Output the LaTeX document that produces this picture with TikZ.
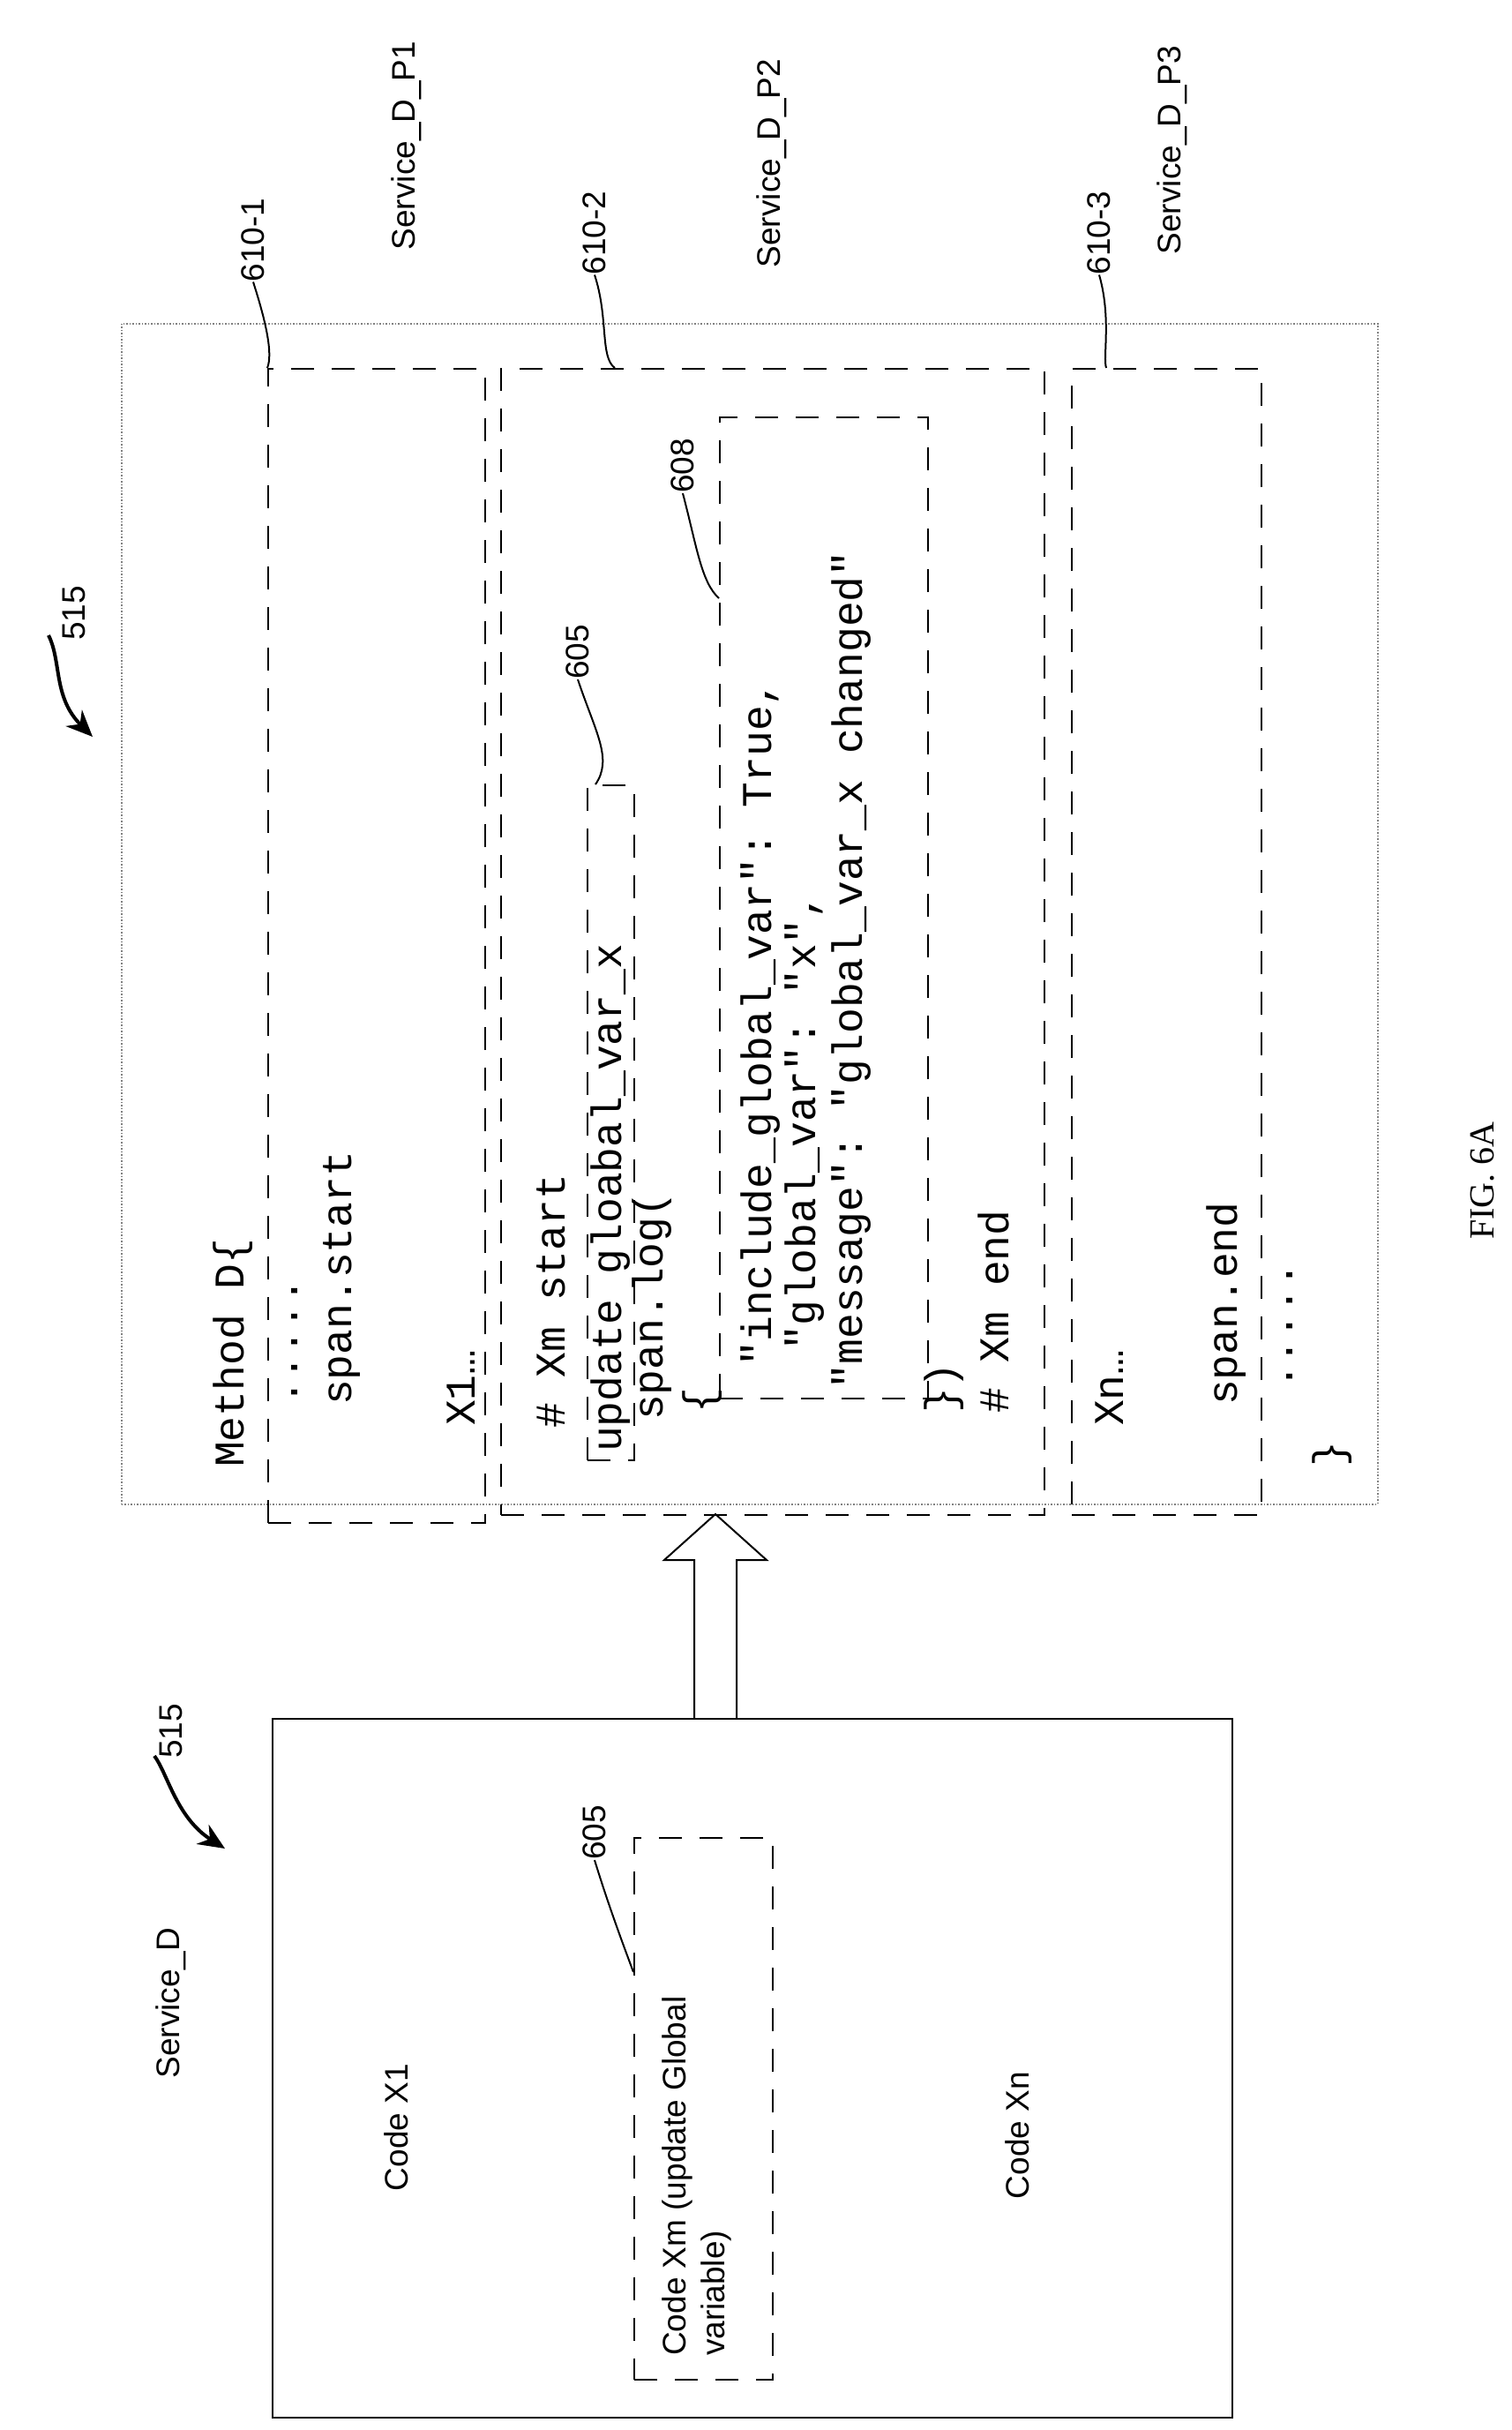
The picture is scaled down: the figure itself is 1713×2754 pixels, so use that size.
\documentclass[tikz,border=0pt]{standalone}
\usepackage{fontspec}
\setmainfont{Liberation Serif}
\setsansfont{Liberation Sans}
\setmonofont{Liberation Mono}
\usetikzlibrary{arrows.meta}

\begin{document}
\begin{tikzpicture}[x=1pt, y=-1pt,
    codeline/.style={rotate=90, anchor=west, inner sep=0pt, font=\fontsize{48}{56}\selectfont\ttfamily},
    label/.style={rotate=90, inner sep=0pt, font=\fontsize{37}{44}\selectfont\sffamily},
    partbox/.style={draw, dash pattern=on 26pt off 20pt, line width=2.2pt},
    leader/.style={line width=2pt},
    refarrow/.style={line width=4pt, -{Stealth[length=30pt, width=26pt]}}
]
    \useasboundingbox (0,0) rectangle (1713,2754);

    % Method D box and its parts
    \node[draw=gray, dotted, line width=1.5pt, minimum width=1424pt, minimum height=1338pt, inner sep=0pt, anchor=north west] (method) at (137,366) {};
    \node[partbox, minimum width=246pt, minimum height=1308pt, anchor=north west] (p1) at (303,417) {};
    \node[partbox, minimum width=616pt, minimum height=1299pt, anchor=north west] (p2) at (567,417) {};
    \node[partbox, minimum width=215pt, minimum height=1299pt, anchor=north west] (p3) at (1214,417) {};
    \node[partbox, minimum width=236pt, minimum height=1112pt, anchor=north west] (log) at (815,472) {};
    \node[partbox, minimum width=53pt, minimum height=765pt, anchor=north west] (upd) at (665,889) {};

    % Code lines
    \node[codeline] (c1) at (264,1663) {Method D\{};
    \node[codeline] (c2) at (334,1593) {.....};
    \node[codeline] (c3) at (387,1593) {span.start};
    \node[codeline] (c4) at (523,1616) {X1\ldots};
    \node[codeline] (c5) at (625,1619) {\# Xm start};
    \node[codeline] (c6) at (692,1646) {update gloabal\_var\_x};
    \node[codeline] (c7) at (739,1610) {span.log(};
    \node[codeline] (c8) at (796,1602) {\{};
    \node[codeline] (c9) at (862,1549) {"include\_global\_var": True,};
    \node[codeline] (c10) at (912,1531) {"global\_var": "x",};
    \node[codeline] (c11) at (965,1575) {"message": "global\_var\_x changed"};
    \node[codeline] (c12) at (1070,1602) {\})};
    \node[codeline] (c13) at (1126,1602) {\# Xm end};
    \node[codeline] (c14) at (1258,1616) {Xn\ldots};
    \node[codeline] (c15) at (1390,1593) {span.end};
    \node[codeline] (c16) at (1462,1575) {.....};
    \node[codeline] (c17) at (1510,1663) {\}};

    % Part labels
    \node[label] (s1) at (461,165) {Service\_D\_P1};
    \node[label] (s2) at (875,185) {Service\_D\_P2};
    \node[label] (s3) at (1329,170) {Service\_D\_P3};
    \node[label] (n1) at (287,272) {610-1};
    \node[label] (n2) at (674,264) {610-2};
    \node[label] (n3) at (1246,264) {610-3};
    \node[label] (n608) at (774,528) {608};
    \node[label] (n605) at (655,739) {605};
    \draw[leader] (n1.west) .. controls (300,360) and (310,400) .. (p1.north west);
    \draw[leader] (n2.west) .. controls (690,360) and (680,405) .. ([xshift=130pt]p2.north west);
    \draw[leader] (n3.west) .. controls (1260,360) and (1250,405) .. ([xshift=40pt]p3.north west);
    \draw[leader] (n608.west) .. controls (790,620) and (795,660) .. ([yshift=-206pt]log.north west);
    \draw[leader] (n605.west) .. controls (675,830) and (695,860) .. ([xshift=10pt]upd.north west);

    % Service D box
    \node[draw, line width=1.5pt, minimum width=1088pt, minimum height=792pt, inner sep=0pt, anchor=north west] (svc) at (308,1947) {};
    \node[partbox, minimum width=157pt, minimum height=614pt, anchor=north west] (xm) at (718,2082) {};
    \node[label] (cx1) at (449,2411) {Code X1};
    \node[label, anchor=west, align=left] (cxm) at (790,2670) {Code Xm (update Global\\variable)};
    \node[label] (cxn) at (1153,2420) {Code Xn};
    \node[label] (svcname) at (194,2270) {Service\_D};
    \node[label] (m605) at (674,2077) {605};
    \draw[leader] (m605.west) .. controls (690,2160) and (705,2200) .. ([yshift=-153pt]xm.north west);

    % Reference 515 marks
    \node[label] (r1) at (84,695) {515};
    \node[label] (r2) at (194,1962) {515};
    \draw[refarrow] (55,720) .. controls (70,750) and (60,790) .. (105,835);
    \draw[refarrow] (175,1990) .. controls (190,2010) and (200,2060) .. (255,2095);

    % Transfer arrow
    \draw[line width=2pt] (787,1947) -- (787,1768) -- (753,1768) -- (811,1716) -- (869,1768) -- (835,1768) -- (835,1947);

    \node[rotate=90, font=\fontsize{40}{48}\selectfont] (fig) at (1681,1338) {FIG. 6A};
\end{tikzpicture}
\end{document}
